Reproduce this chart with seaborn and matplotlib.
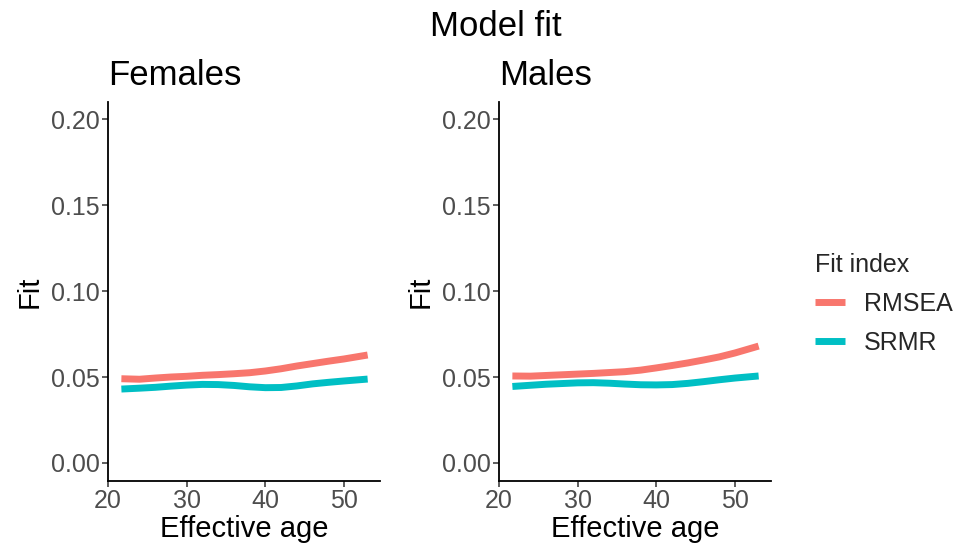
import matplotlib
matplotlib.use("Agg")
import matplotlib.pyplot as plt
import seaborn as sns
import pandas as pd
from matplotlib.lines import Line2D

age = [21.7, 24, 26, 28, 30, 32, 34, 36, 38, 40, 42, 44, 46, 48, 50, 53]
female_rmsea = [0.0490, 0.0487, 0.0494, 0.0500, 0.0504, 0.0510, 0.0514, 0.0519, 0.0525,
                0.0535, 0.0548, 0.0564, 0.0578, 0.0592, 0.0605, 0.0628]
female_srmr = [0.0430, 0.0435, 0.0440, 0.0447, 0.0453, 0.0457, 0.0456, 0.0451, 0.0443,
               0.0438, 0.0439, 0.0448, 0.0460, 0.0469, 0.0477, 0.0488]
male_rmsea = [0.0506, 0.0505, 0.0509, 0.0513, 0.0517, 0.0521, 0.0526, 0.0531, 0.0540,
              0.0553, 0.0567, 0.0582, 0.0599, 0.0617, 0.0640, 0.0680]
male_srmr = [0.0445, 0.0452, 0.0458, 0.0462, 0.0466, 0.0467, 0.0464, 0.0459, 0.0455,
             0.0454, 0.0456, 0.0463, 0.0473, 0.0484, 0.0494, 0.0506]
panels = ["Females", "Males"]
indices = ["RMSEA", "SRMR"]
colors = ["#F8766D", "#00BFC4"]
yticks = [0.00, 0.05, 0.10, 0.15, 0.20]
xticks = [20, 30, 40, 50]

rows = []
for panel, r, s in [("Females", female_rmsea, female_srmr), ("Males", male_rmsea, male_srmr)]:
    for a, v in zip(age, r):
        rows.append({"panel": panel, "age": a, "fit": v, "index": "RMSEA"})
    for a, v in zip(age, s):
        rows.append({"panel": panel, "age": a, "fit": v, "index": "SRMR"})
df = pd.DataFrame(rows)

sns.set_theme(style="ticks")
plt.rcParams["font.family"] = ["Liberation Sans", "DejaVu Sans"]

fig = plt.figure(figsize=(9.61, 5.52), dpi=100)
W, H = 961, 552
ax_positions = [(108, 102, 380, 481), (499, 102, 771, 481)]

for panel, (x0, y0, x1, y1) in zip(panels, ax_positions):
    ax = fig.add_axes([x0 / W, 1 - y1 / H, (x1 - x0) / W, (y1 - y0) / H])
    sub = df[df["panel"] == panel]
    sns.lineplot(data=sub, x="age", y="fit", hue="index", hue_order=indices,
                 palette=colors, linewidth=5, legend=False, ax=ax,
                 solid_capstyle="butt", solid_joinstyle="round")
    ax.set_xlim(20.13, 54.57)
    ax.set_ylim(-0.0105, 0.21)
    ax.set_xticks(xticks)
    ax.set_yticks(yticks)
    ax.set_yticklabels([f"{t:.2f}" for t in yticks])
    ax.tick_params(axis="both", labelsize=18, colors="#333333", labelcolor="#4D4D4D",
                   length=4, width=1.1, pad=2)
    for sp in ["top", "right"]:
        ax.spines[sp].set_visible(False)
    for sp in ["left", "bottom"]:
        ax.spines[sp].set_color("black")
        ax.spines[sp].set_linewidth(1.3)
    ax.set_xlabel("Effective age", fontsize=21, color="black", labelpad=1)
    ax.set_ylabel("Fit", fontsize=21, color="black", labelpad=5)
    ax.set_title(panel, fontsize=25, loc="left", pad=12, color="black")
    ax.set_facecolor("white")

fig.text(496 / W, 1 - 27 / H, "Model fit", fontsize=25, ha="center", va="center", color="black")

handles = [Line2D([0], [0], color=c, lw=5, solid_capstyle="butt") for c in colors]
leg = fig.legend(handles, indices, title="Fit index", loc="center left",
                 bbox_to_anchor=(815 / W, 1 - 304 / H), frameon=False,
                 fontsize=18, title_fontsize=18, handlelength=1.2,
                 handletextpad=0.75, labelspacing=0.6, borderpad=0,
                 borderaxespad=0)
leg._legend_box.align = "left"

fig.savefig("out.png", dpi=100, facecolor="white")
